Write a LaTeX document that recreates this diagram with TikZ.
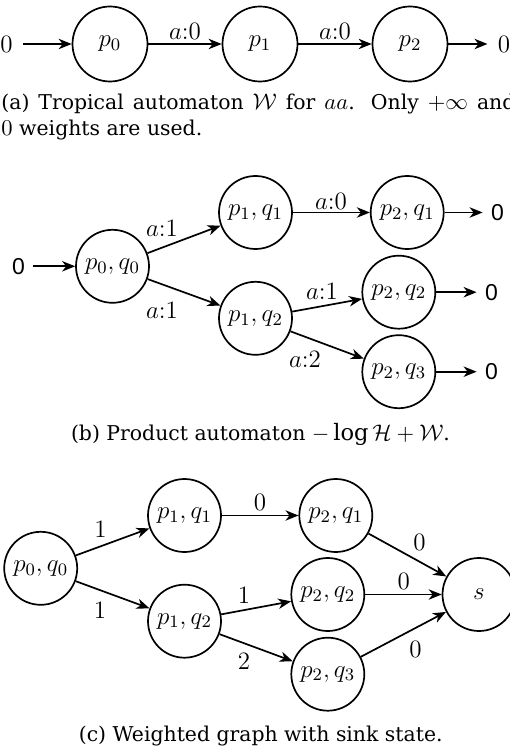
\RequirePackage{fix-cm}
\documentclass[tikz,border=0pt]{standalone}
\usepackage{fontspec}
\setmainfont{DejaVu Serif}
\newfontfamily\digitsans{Liberation Sans}
\usetikzlibrary{arrows.meta}

\newcommand\statefont{\fontsize{12.5}{15}\selectfont}
\newcommand\capfont{\fontsize{10.2}{12.5}\selectfont}
% captions: slightly larger math next to the serif text
\DeclareMathSizes{10.2}{11.3}{8}{6}

\tikzset{
  x=0.5pt, y=-0.5pt,
  pstate/.style={circle, draw, line width=0.85pt, minimum size=36.5pt,
                 inner sep=0pt, font=\statefont},
  wstate/.style={pstate, minimum size=37.5pt},
  lab/.style={inner sep=0pt, font=\statefont},
  zmath/.style={inner ysep=0pt, inner xsep=5pt, font=\statefont},
  zsans/.style={inner ysep=0pt, inner xsep=4pt, font=\digitsans\fontsize{11.5}{13}\selectfont},
  capt/.style={inner sep=0pt, font=\capfont},
  arr/.style={-{Stealth[length=6.5pt,width=5.2pt,inset=2pt]}, line width=0.85pt},
}

\begin{document}
\begin{tikzpicture}
\useasboundingbox (0,0) rectangle (509,753);

% ---- (a) tropical automaton W ----
\node[wstate] (p0) at (110,44) {$p_0$};
\node[wstate] (p1) at (260,44) {$p_1$};
\node[wstate] (p2) at (410,44) {$p_2$};
\node[zmath] (ain)  at (6.5,44) {$0$};
\node[zmath] (aout) at (504,44) {$0$};
\draw[arr] (ain) -- (p0);
\draw[arr] (p0) -- (p1);
\draw[arr] (p1) -- (p2);
\draw[arr] (p2) -- (aout);
\node[lab] (wa1) at (185,31) {$a{:}0$};
\node[lab] (wa2) at (335,31) {$a{:}0$};

% justified first caption line (stretched to the column width)
\node[capt, anchor=base west] (capa1) at (1,110)
  {\hbox to 257pt{(a) Tropical automaton $\mathcal{W}$ for $aa$. Only $+\infty$ and}};
\node[capt, anchor=base west] (capa2) at (1,136) {$0$ weights are used.};

% ---- (b) product automaton ----
\node[pstate] (b00) at (112.5,266.3) {$p_0,q_0$};
\node[pstate] (b11) at (255.5,212.5) {$p_1,q_1$};
\node[pstate] (b21) at (407.2,212.5) {$p_2,q_1$};
\node[pstate] (b12) at (255.5,318.3) {$p_1,q_2$};
\node[pstate] (b22) at (398.8,292.2) {$p_2,q_2$};
\node[pstate] (b23) at (398.8,371.7) {$p_2,q_3$};
\node[zsans] (bin)  at (18.6,266.3)  {0};
\node[zsans] (bout1) at (497.4,212.5) {0};
\node[zsans] (bout2) at (491.4,292.2) {0};
\node[zsans] (bout3) at (491.4,371.7) {0};
\draw[arr] (bin) -- (b00);
\draw[arr] (b00) -- (b11);
\draw[arr] (b00) -- (b12);
\draw[arr] (b11) -- (b21);
\draw[arr] (b12) -- (b22);
\draw[arr] (b12) -- (b23);
\draw[arr] (b21) -- (bout1);
\draw[arr] (b22) -- (bout2);
\draw[arr] (b23) -- (bout3);
\node[lab] (bl1) at (162,228) {$a{:}1$};
\node[lab] (bl2) at (162,310) {$a{:}1$};
\node[lab] (bl3) at (331,201) {$a{:}0$};
\node[lab] (bl4) at (322,291) {$a{:}1$};
\node[lab] (bl5) at (305,359) {$a{:}2$};

\node[capt, anchor=base] (capb) at (260.5,440)
  {(b) Product automaton $-\log\mathcal{H}+\mathcal{W}$.};

% ---- (c) weighted graph with sink ----
\node[pstate] (c00) at (40.7,568.3)  {$p_0,q_0$};
\node[pstate] (c11) at (184.5,515.5) {$p_1,q_1$};
\node[pstate] (c12) at (184.5,621.2) {$p_1,q_2$};
\node[pstate] (c21) at (335.8,515.5) {$p_2,q_1$};
\node[pstate] (c22) at (327.8,594.5) {$p_2,q_2$};
\node[pstate] (c23) at (327.8,674.2) {$p_2,q_3$};
\node[pstate] (cs)  at (479,594.5)   {$s$};
\draw[arr] (c00) -- (c11);
\draw[arr] (c00) -- (c12);
\draw[arr] (c11) -- (c21);
\draw[arr] (c12) -- (c22);
\draw[arr] (c12) -- (c23);
\draw[arr] (c21) -- (cs);
\draw[arr] (c22) -- (cs);
\draw[arr] (c23) -- (cs);
\node[lab] (cl1) at (100.5,529) {$1$};
\node[lab] (cl2) at (100,610)   {$1$};
\node[lab] (cl3) at (260,502.5) {$0$};
\node[lab] (cl4) at (244,595)   {$1$};
\node[lab] (cl5) at (244,661.7) {$2$};
\node[lab] (cl6) at (419.5,542.5) {$0$};
\node[lab] (cl7) at (403.7,581.5) {$0$};
\node[lab] (cl8) at (415.5,649)   {$0$};

\node[capt, anchor=base] (capc) at (260.7,741.5)
  {(c) Weighted graph with sink state.};
\end{tikzpicture}
\end{document}
